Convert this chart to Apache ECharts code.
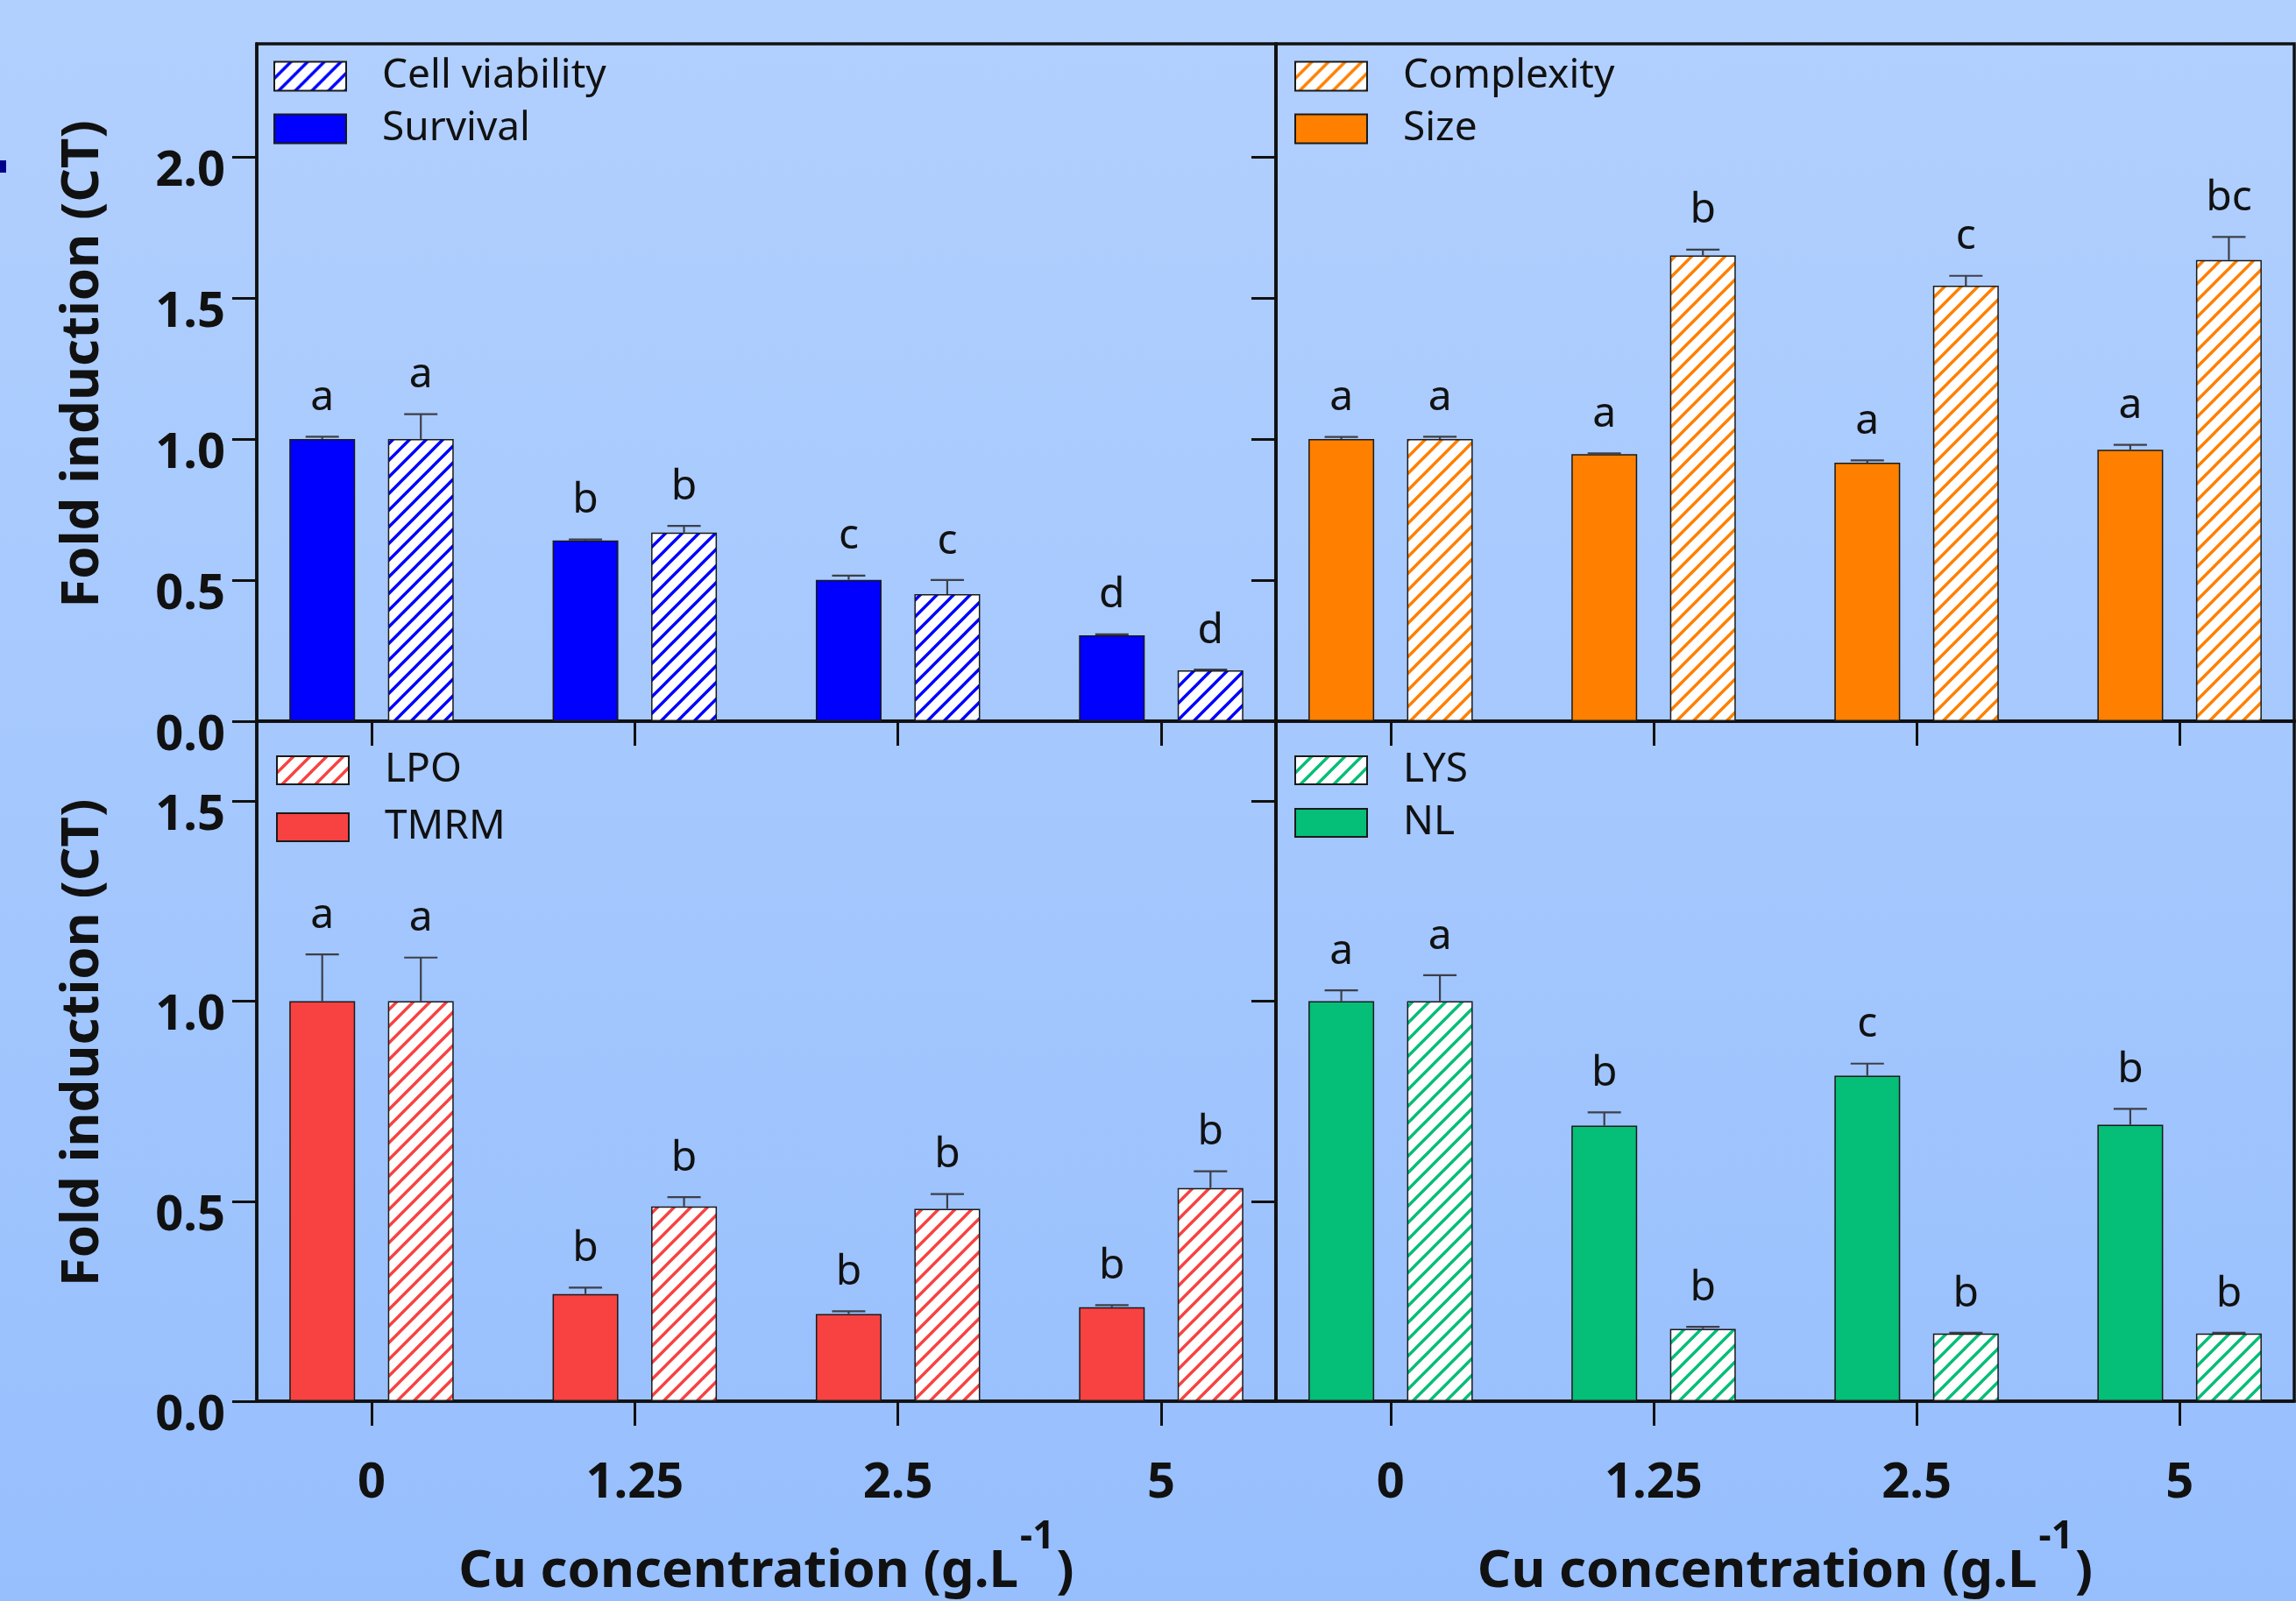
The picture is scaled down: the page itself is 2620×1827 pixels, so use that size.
<!DOCTYPE html>
<html>
<head>
<meta charset="utf-8">
<script src="https://cdn.jsdelivr.net/npm/echarts@6/dist/echarts.min.js"></script>
<style>
html, body { margin: 0; padding: 0; }
#chart { width: 2620px; height: 1827px; }
</style>
</head>
<body>
<div id="chart"></div>
<script>
// categories on the x axis
var categories = ['0', '1.25', '2.5', '5'];
var xPos = [0, 1, 2, 3];

// top left : survival / cell viability
var survival = [1.00, 0.640, 0.501, 0.304];
var survivalErr = [0.008, 0.004, 0.015, 0.004];
var survivalLetters = ['a', 'b', 'c', 'd'];
var viability = [1.00, 0.668, 0.450, 0.180];
var viabilityErr = [0.088, 0.024, 0.050, 0.003];
var viabilityLetters = ['a', 'b', 'c', 'd'];

// top right : size / complexity
var sizeVal = [1.00, 0.946, 0.916, 0.962];
var sizeErr = [0.007, 0.003, 0.008, 0.017];
var sizeLetters = ['a', 'a', 'a', 'a'];
var complexity = [1.00, 1.650, 1.543, 1.634];
var complexityErr = [0.008, 0.021, 0.035, 0.082];
var complexityLetters = ['a', 'b', 'c', 'bc'];

// bottom left : TMRM / LPO
var tmrm = [1.00, 0.268, 0.218, 0.235];
var tmrmErr = [0.117, 0.016, 0.007, 0.005];
var tmrmLetters = ['a', 'b', 'b', 'b'];
var lpo = [1.00, 0.487, 0.481, 0.533];
var lpoErr = [0.109, 0.023, 0.037, 0.042];
var lpoLetters = ['a', 'b', 'b', 'b'];

// bottom right : NL / LYS
var nl = [1.00, 0.689, 0.814, 0.691];
var nlErr = [0.027, 0.033, 0.030, 0.040];
var nlLetters = ['a', 'b', 'c', 'b'];
var lys = [1.00, 0.181, 0.169, 0.169];
var lysErr = [0.065, 0.005, 0.002, 0.002];
var lysLetters = ['a', 'b', 'b', 'b'];

// y ticks
var topTicks = [0, 0.5, 1.0, 1.5, 2.0];
var bottomTicks = [0, 0.5, 1.0, 1.5];

var FONT = 'Noto Sans';
var BAR_W = 75;
var OFFSET = 56.25; // half bar + half gap (barGap 50%)

function hatch(color) {
	var p = 19;
	var c = document.createElement('canvas');
	c.width = p;
	c.height = p;
	var g = c.getContext('2d');
	g.fillStyle = '#ffffff';
	g.fillRect(0, 0, p, p);
	g.strokeStyle = color;
	g.lineWidth = 3.4;
	g.beginPath();
	[0, p, 2 * p].forEach(function (k) {
		g.moveTo(-p, k + p);
		g.lineTo(2 * p, k - 2 * p);
	});
	g.stroke();
	return { image: c, repeat: 'repeat' };
}

var panels = [
	{ solidName: 'Survival', solid: survival, solidErr: survivalErr, solidLetters: survivalLetters,
	  hatchName: 'Cell viability', hatch: viability, hatchErr: viabilityErr, hatchLetters: viabilityLetters,
	  color: '#0000ff' },
	{ solidName: 'Size', solid: sizeVal, solidErr: sizeErr, solidLetters: sizeLetters,
	  hatchName: 'Complexity', hatch: complexity, hatchErr: complexityErr, hatchLetters: complexityLetters,
	  color: '#ff8000' },
	{ solidName: 'TMRM', solid: tmrm, solidErr: tmrmErr, solidLetters: tmrmLetters,
	  hatchName: 'LPO', hatch: lpo, hatchErr: lpoErr, hatchLetters: lpoLetters,
	  color: '#f84242' },
	{ solidName: 'NL', solid: nl, solidErr: nlErr, solidLetters: nlLetters,
	  hatchName: 'LYS', hatch: lys, hatchErr: lysErr, hatchLetters: lysLetters,
	  color: '#05be78' }
];

var grids = [
	{ left: 293, top: 50, width: 1163, height: 773 },
	{ left: 1456, top: 50, width: 1162, height: 773 },
	{ left: 293, top: 823, width: 1163, height: 776 },
	{ left: 1456, top: 823, width: 1162, height: 776 }
];
var legendPos = [
	{ left: 307, top: 59, itemHeight: 33, itemGap: 14 },
	{ left: 1472, top: 59, itemHeight: 33, itemGap: 14 },
	{ left: 310, top: 851, itemHeight: 32, itemGap: 19 },
	{ left: 1472, top: 851, itemHeight: 32, itemGap: 14 }
];

function errRender(values, errs, letters, offset) {
	return function (params, api) {
		var i = params.dataIndex;
		var base = api.coord([xPos[i], values[i]]);
		var top = api.coord([xPos[i], values[i] + errs[i]]);
		var cx = base[0] + offset;
		var st = { stroke: '#3c3f48', lineWidth: 2.2 };
		return {
			type: 'group',
			children: [
				{ type: 'line', shape: { x1: cx, y1: base[1], x2: cx, y2: top[1] }, style: st },
				{ type: 'line', shape: { x1: cx - 19, y1: top[1], x2: cx + 19, y2: top[1] }, style: st },
				{ type: 'text', style: {
					text: letters[i], x: cx, y: top[1] - 20,
					align: 'center', verticalAlign: 'bottom',
					fill: '#111', fontSize: 48, fontFamily: FONT
				} }
			]
		};
	};
}

var option = {
	backgroundColor: {
		type: 'linear', x: 0, y: 0, x2: 0, y2: 1,
		colorStops: [{ offset: 0, color: '#b2d0fe' }, { offset: 1, color: '#97bffd' }]
	},
	animation: false,
	grid: [],
	xAxis: [],
	yAxis: [],
	legend: [],
	series: [],
	graphic: [
		{ type: 'rect', shape: { x: 0, y: 183, width: 7, height: 14 }, style: { fill: '#00008b' } }
	]
};

grids.forEach(function (g, k) {
	var isTop = k < 2;
	var isLeft = k % 2 === 0;
	option.grid.push({
		left: g.left, top: g.top, width: g.width, height: g.height,
		show: true, borderColor: '#111', borderWidth: 3.5
	});
	option.xAxis.push({
		type: 'value', gridIndex: k,
		min: -0.436, max: 3.436,
		splitLine: { show: false },
		axisLine: { show: true, onZero: false, lineStyle: { color: '#111', width: 3.5 } },
		axisTick: { show: true, inside: false, length: 28, customValues: xPos, lineStyle: { color: '#111', width: 3 } },
		axisLabel: {
			show: !isTop, customValues: xPos, margin: 66,
			fontSize: 56, fontWeight: 'bold', fontFamily: FONT, color: '#111',
			formatter: function (v) { return categories[Math.round(v)]; }
		},
		name: isTop ? '' : 'Cu concentration (g.L{sup|-1})',
		nameLocation: 'middle', nameGap: 165,
		nameTextStyle: {
			fontSize: 60, fontWeight: 'bold', fontFamily: FONT, color: '#111',
			rich: {
				sup: { fontSize: 44, fontWeight: 'bold', fontFamily: FONT, color: '#111',
					verticalAlign: 'bottom', lineHeight: 44, padding: [0, 2, 48, 2] }
			}
		}
	});
	var ticks = isTop ? topTicks : bottomTicks;
	option.yAxis.push({
		type: 'value', gridIndex: k,
		min: 0, max: isTop ? 2.4 : 1.7,
		splitLine: { show: false },
		axisLine: { show: true, onZero: false, lineStyle: { color: '#111', width: 3.5 } },
		axisTick: { show: true, inside: false, length: 28, customValues: ticks, lineStyle: { color: '#111', width: 3 } },
		axisLabel: {
			show: isLeft, customValues: ticks, margin: 36,
			verticalAlign: 'top', lineHeight: 34,
			fontSize: 56, fontWeight: 'bold', fontFamily: FONT, color: '#111',
			formatter: function (v) { return v.toFixed(1); }
		},
		name: isLeft ? 'Fold induction (CT)' : '',
		nameLocation: 'middle', nameGap: 168, nameRotate: 90,
		nameTextStyle: {
			fontSize: 60, fontWeight: 'bold', fontFamily: FONT, color: '#111',
			padding: [0, 0, 0, 42]
		}
	});

	var p = panels[k];
	var lp = legendPos[k];
	option.legend.push({
		data: [p.hatchName, p.solidName],
		orient: 'vertical', left: lp.left, top: lp.top,
		itemWidth: 82, itemHeight: lp.itemHeight, itemGap: lp.itemGap,
		icon: 'rect', selectedMode: false,
		textStyle: { fontSize: 46, fontFamily: FONT, color: '#111', padding: [0, 0, 0, 36] }
	});
	option.series.push({
		name: p.solidName, type: 'bar', xAxisIndex: k, yAxisIndex: k,
		barWidth: BAR_W, barGap: '50%',
		itemStyle: { color: p.color, borderColor: '#1a1a1a', borderWidth: 1.5 },
		data: xPos.map(function (x, i) { return [x, p.solid[i]]; })
	});
	option.series.push({
		name: p.hatchName, type: 'bar', xAxisIndex: k, yAxisIndex: k,
		barWidth: BAR_W, barGap: '50%',
		itemStyle: { color: hatch(p.color), borderColor: '#1a1a1a', borderWidth: 1.5 },
		data: xPos.map(function (x, i) { return [x, p.hatch[i]]; })
	});
	option.series.push({
		type: 'custom', xAxisIndex: k, yAxisIndex: k, z: 5,
		renderItem: errRender(p.solid, p.solidErr, p.solidLetters, -OFFSET),
		data: xPos.map(function (x, i) { return [x, p.solid[i] + p.solidErr[i]]; })
	});
	option.series.push({
		type: 'custom', xAxisIndex: k, yAxisIndex: k, z: 5,
		renderItem: errRender(p.hatch, p.hatchErr, p.hatchLetters, OFFSET),
		data: xPos.map(function (x, i) { return [x, p.hatch[i] + p.hatchErr[i]]; })
	});
});

var myChart = echarts.init(document.getElementById('chart'));
myChart.setOption(option);
</script>
</body>
</html>
